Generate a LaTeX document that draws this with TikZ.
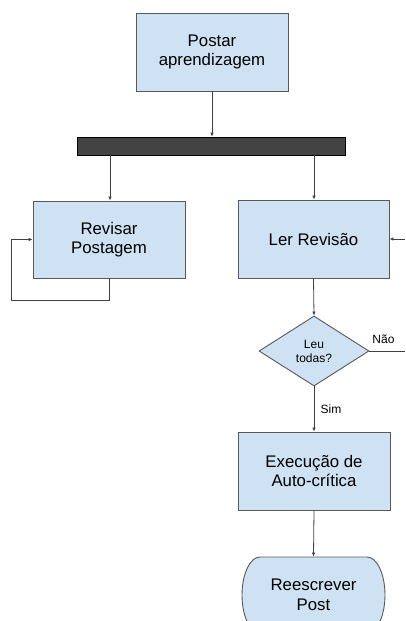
\documentclass[tikz,border=0pt]{standalone}
\usepackage{fontspec}
\setmainfont{Liberation Sans}
\usetikzlibrary{arrows.meta,shapes.geometric}
\definecolor{boxfill}{HTML}{CFE2F3}
\definecolor{boxline}{HTML}{595959}
\definecolor{barfill}{HTML}{434343}
\definecolor{lineclr}{HTML}{404040}
\begin{document}
\begin{tikzpicture}[x=1pt,y=-1pt,
  box/.style={draw=boxline,fill=boxfill,line width=0.9pt,align=center,
    font=\fontsize{16.8}{19.5}\selectfont,inner sep=0pt},
  small/.style={font=\fontsize{12}{14}\selectfont},
  conn/.style={draw=lineclr,line width=0.8pt},
  arr/.style={conn,-{Latex[length=4pt,width=3.5pt]}}]
\useasboundingbox (0,0) rectangle (405,621);
\node[box,minimum width=152pt,minimum height=78pt] (post) at (212,52) {Postar\\aprendizagem};
\node[draw=black,fill=barfill,line width=0.6pt,minimum width=268pt,minimum height=18pt,inner sep=0pt] (bar) at (211,146) {};
\node[box,minimum width=152pt,minimum height=77pt] (rev) at (109,239.5) {Revisar\\Postagem};
\node[box,minimum width=151pt,minimum height=78pt] (ler) at (313.5,239) {Ler Revisão};
\node[box,diamond,aspect=1.5714,minimum width=110pt,minimum height=70pt,font=\fontsize{12}{14}\selectfont] (dec) at (314,351) {Leu\\todas?};
\node[box,minimum width=152pt,minimum height=78pt] (exe) at (314,471) {Execução de\\Auto-crítica};
\draw[draw=boxline,fill=boxfill,line width=0.9pt]
  (260,557) -- (367,557) arc[start angle=-90,end angle=90,x radius=18,y radius=38]
  -- (260,633) arc[start angle=90,end angle=270,x radius=18,y radius=38] -- cycle;
\node[box,draw=none,fill=none,minimum width=143pt,minimum height=76pt] (ree) at (313.5,595) {Reescrever\\Post};
\coordinate (inR) at (405,239);
\coordinate (naoR) at (405,351);
\coordinate (l1) at (109,300);
\coordinate (l2) at (11,300);
\coordinate (l3) at (11,239.5);
\coordinate (b1) at (110,155);
\coordinate (b2) at (314,155);
\draw[arr] (post.south) -- (post.south |- bar.north);
\draw[arr] (b1) -- (b1 |- rev.north);
\draw[arr] (b2) -- (b2 |- ler.north);
\draw[arr] (rev.south) -- (l1) -- (l2) -- (l3) -- (rev.west);
\draw[arr] (inR) -- (ler.east);
\draw[arr] (ler.south) -- (dec.north);
\draw[conn] (dec.east) -- (naoR);
\node[small] (nao) at (383.5,339) {Não};
\draw[arr] (dec.south) -- (exe.north);
\node[small] (sim) at (331,409) {Sim};
\draw[arr] (exe.south) -- (ree.north);
\end{tikzpicture}
\end{document}
